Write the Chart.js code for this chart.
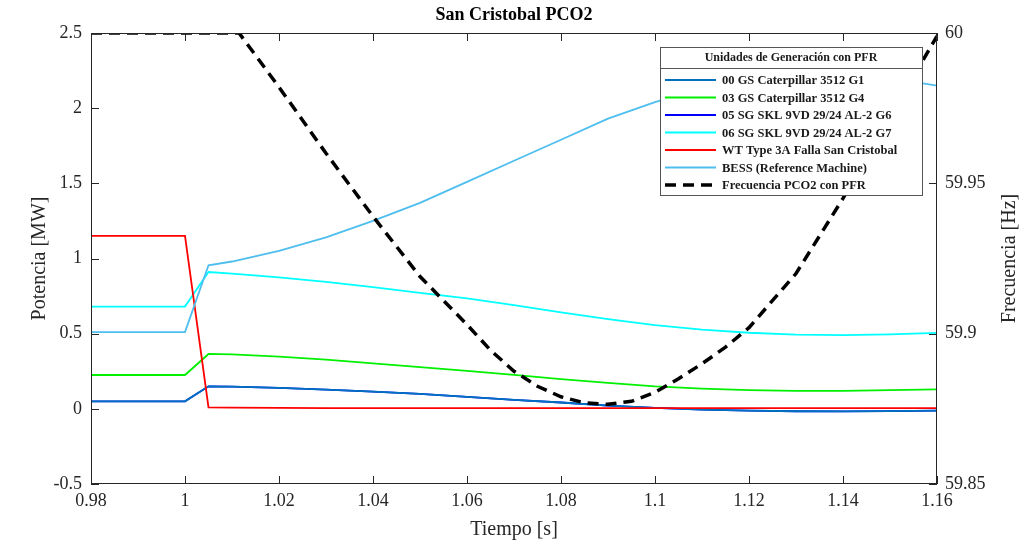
<!DOCTYPE html>
<html>
<head>
<meta charset="utf-8">
<script src="https://cdn.jsdelivr.net/npm/chart.js@4.4.1/dist/chart.umd.min.js"></script>
<style>
  html, body { margin:0; padding:0; background:#fff; }
  #wrap { width:1026px; height:546px; }
</style>
</head>
<body>
<div id="wrap"><canvas id="c" width="1026" height="546"></canvas></div>
<script>
// datos
const tiempo = [0.98, 1.0, 1.005, 1.01, 1.02, 1.03, 1.04, 1.05, 1.06, 1.07, 1.08, 1.09, 1.10, 1.11, 1.12, 1.13, 1.14, 1.15, 1.16];
const g1   = [0.05, 0.05, 0.15, 0.148, 0.14, 0.128, 0.115, 0.10, 0.08, 0.06, 0.042, 0.022, 0.006, -0.005, -0.012, -0.016, -0.017, -0.015, -0.012];
const g4   = [0.225, 0.225, 0.365, 0.362, 0.347, 0.327, 0.303, 0.278, 0.252, 0.226, 0.198, 0.172, 0.15, 0.135, 0.125, 0.12, 0.12, 0.124, 0.13];
const g6   = [0.05, 0.05, 0.15, 0.148, 0.14, 0.128, 0.115, 0.10, 0.08, 0.06, 0.042, 0.022, 0.006, -0.005, -0.012, -0.016, -0.017, -0.015, -0.012];
const g7   = [0.68, 0.68, 0.91, 0.90, 0.875, 0.845, 0.81, 0.772, 0.735, 0.69, 0.642, 0.597, 0.557, 0.527, 0.506, 0.493, 0.49, 0.495, 0.505];
const wt   = [1.15, 1.15, 0.01, 0.008, 0.006, 0.005, 0.005, 0.005, 0.005, 0.005, 0.005, 0.005, 0.005, 0.005, 0.005, 0.005, 0.005, 0.005, 0.005];
const bess = [0.51, 0.51, 0.955, 0.98, 1.05, 1.14, 1.25, 1.37, 1.51, 1.65, 1.79, 1.93, 2.04, 2.13, 2.19, 2.22, 2.22, 2.20, 2.15];

const tiempoF = [0.98, 1.0, 1.0115, 1.02, 1.03, 1.04, 1.05, 1.06, 1.065, 1.07, 1.075, 1.08, 1.085, 1.09, 1.095, 1.10, 1.105, 1.11, 1.115, 1.12, 1.13, 1.14, 1.15, 1.16];
const frec    = [60, 60, 60, 59.982, 59.960, 59.939, 59.919, 59.903, 59.8945, 59.8875, 59.8825, 59.879, 59.877, 59.8765, 59.8775, 59.8805, 59.885, 59.890, 59.8955, 59.902, 59.920, 59.945, 59.972, 59.999];

const xTicks  = [0.98, 1.0, 1.02, 1.04, 1.06, 1.08, 1.10, 1.12, 1.14, 1.16];
const yTicks  = [-0.5, 0, 0.5, 1, 1.5, 2, 2.5];
const y1Ticks = [59.85, 59.9, 59.95, 60];

const titulo = 'San Cristobal PCO2';
const tituloLeyenda = 'Unidades de Generación con PFR';
const tituloY1 = 'Frecuencia [Hz]';

const SERIF = "'Liberation Serif', 'Times New Roman', serif";

function pts(xs, ys){ return xs.map((x,i)=>({x:x, y:ys[i]})); }
function fmt(v){ return String(+Number(v).toFixed(3)); }

const series = [
  { label:'00 GS Caterpillar 3512 G1', data:pts(tiempo,g1), color:'#0072BD' },
  { label:'03 GS Caterpillar 3512 G4', data:pts(tiempo,g4), color:'#00F000' },
  { label:'05 SG SKL 9VD 29/24 AL-2 G6', data:pts(tiempo,g6), color:'#0000FF' },
  { label:'06 SG SKL 9VD 29/24 AL-2 G7', data:pts(tiempo,g7), color:'#00FFFF' },
  { label:'WT Type 3A Falla San Cristobal', data:pts(tiempo,wt), color:'#FF0000' },
  { label:'BESS (Reference Machine)', data:pts(tiempo,bess), color:'#4DBEEE' },
  { label:'Frecuencia PCO2 con PFR', data:pts(tiempoF,frec), color:'#000000', dashed:true, axis:'y1' }
];

// orden de dibujo tipo MATLAB: el ultimo encima; G6 queda debajo de G1
const drawOrder = [6, 5, 7, 4, 3, 2, 1];

const datasets = series.map((s,i)=>({
  label: s.label,
  data: s.data,
  yAxisID: s.axis || 'y',
  borderColor: s.color,
  backgroundColor: s.color,
  borderWidth: s.dashed ? 3.5 : 1.8,
  borderDash: s.dashed ? [11,7] : [],
  pointRadius: 0,
  fill: false,
  tension: 0,
  order: drawOrder[i]
}));

const framePlugin = {
  id: 'frame',
  afterDraw(chart){
    const ctx = chart.ctx, a = chart.chartArea;
    const sx = chart.scales.x, sy = chart.scales.y, sy1 = chart.scales.y1;
    ctx.save();
    // titulo
    ctx.fillStyle = '#000';
    ctx.font = 'bold 18px ' + SERIF;
    ctx.textAlign = 'center';
    ctx.textBaseline = 'middle';
    ctx.fillText(titulo, (a.left + a.right)/2, 15);

    // titulo eje derecho (leido de abajo hacia arriba, como en MATLAB)
    ctx.save();
    ctx.fillStyle = '#262626';
    ctx.font = '20px ' + SERIF;
    ctx.translate(1010, (a.top + a.bottom)/2);
    ctx.rotate(-Math.PI/2);
    ctx.fillText(tituloY1, 0, 0);
    ctx.restore();

    // marco y ticks hacia dentro
    ctx.strokeStyle = '#262626';
    ctx.lineWidth = 1;
    ctx.strokeRect(a.left + 0.5, a.top + 0.5, a.right - a.left - 1, a.bottom - a.top - 1);
    const tl = 8;
    ctx.beginPath();
    xTicks.forEach(v=>{
      const px = Math.round(sx.getPixelForValue(v)) + 0.5;
      ctx.moveTo(px, a.bottom); ctx.lineTo(px, a.bottom - tl);
      ctx.moveTo(px, a.top); ctx.lineTo(px, a.top + tl);
    });
    yTicks.forEach(v=>{
      const py = Math.round(sy.getPixelForValue(v)) + 0.5;
      ctx.moveTo(a.left, py); ctx.lineTo(a.left + tl, py);
    });
    y1Ticks.forEach(v=>{
      const py = Math.round(sy1.getPixelForValue(v)) + 0.5;
      ctx.moveTo(a.right, py); ctx.lineTo(a.right - tl, py);
    });
    ctx.stroke();

    // leyenda
    const bx = 660, by = 47, bw = 262, bh = 148;
    ctx.fillStyle = '#fff';
    ctx.fillRect(bx, by, bw, bh);
    ctx.strokeStyle = '#555';
    ctx.strokeRect(bx + 0.5, by + 0.5, bw, bh);
    ctx.beginPath();
    ctx.moveTo(bx, by + 21.5); ctx.lineTo(bx + bw, by + 21.5);
    ctx.stroke();
    ctx.fillStyle = '#1a1a1a';
    ctx.font = 'bold 12px ' + SERIF;
    ctx.textAlign = 'center';
    ctx.fillText(tituloLeyenda, bx + bw/2, by + 11);
    ctx.font = 'bold 12.5px ' + SERIF;
    ctx.textAlign = 'left';
    chart.data.datasets.forEach((ds,i)=>{
      const ly = by + 33 + i*17.5;
      ctx.save();
      ctx.strokeStyle = ds.borderColor;
      ctx.lineWidth = ds.borderWidth;
      ctx.setLineDash(ds.borderDash || []);
      ctx.beginPath();
      ctx.moveTo(bx + 5, ly); ctx.lineTo(bx + 56, ly);
      ctx.stroke();
      ctx.restore();
      ctx.fillStyle = '#1a1a1a';
      ctx.fillText(ds.label, bx + 62, ly + 1);
    });
    ctx.restore();
  }
};

const tickFont = { family: SERIF, size: 18 };
const titleFont = { family: SERIF, size: 20 };

new Chart(document.getElementById('c').getContext('2d'), {
  type: 'line',
  data: { datasets },
  options: {
    responsive: false,
    animation: false,
    devicePixelRatio: 1,
    layout: { padding: { top: 33, left: 0, right: 0, bottom: 0 } },
    plugins: { legend: { display:false }, tooltip: { enabled:false }, title: { display:false } },
    scales: {
      x: {
        type: 'linear', position: 'bottom', min: 0.98, max: 1.16,
        grid: { display:false, drawTicks:false }, border: { display:false },
        afterBuildTicks: s => { s.ticks = xTicks.map(v=>({value:v})); },
        afterFit: s => { s.height = 62; },
        ticks: { font: tickFont, color:'#262626', padding: 6, maxRotation: 0, autoSkip:false, callback: v => fmt(v) },
        title: { display:true, text:'Tiempo [s]', font: titleFont, color:'#262626', padding: { top:0, bottom:4 } }
      },
      y: {
        type: 'linear', position: 'left', min: -0.5, max: 2.5,
        grid: { display:false, drawTicks:false }, border: { display:false },
        afterBuildTicks: s => { s.ticks = yTicks.map(v=>({value:v})); },
        afterFit: s => { s.width = 91; },
        ticks: { font: tickFont, color:'#262626', padding: 9, autoSkip:false, callback: v => fmt(v) },
        title: { display:true, text:'Potencia [MW]', font: titleFont, color:'#262626', padding: { top:28, bottom:0 } }
      },
      y1: {
        type: 'linear', position: 'right', min: 59.85, max: 60,
        grid: { display:false, drawTicks:false }, border: { display:false },
        afterBuildTicks: s => { s.ticks = y1Ticks.map(v=>({value:v})); },
        afterFit: s => { s.width = 89; },
        ticks: { font: tickFont, color:'#262626', padding: 8, autoSkip:false, callback: v => fmt(v) },
        title: { display:false }
      }
    }
  },
  plugins: [framePlugin]
});
</script>
</body>
</html>
